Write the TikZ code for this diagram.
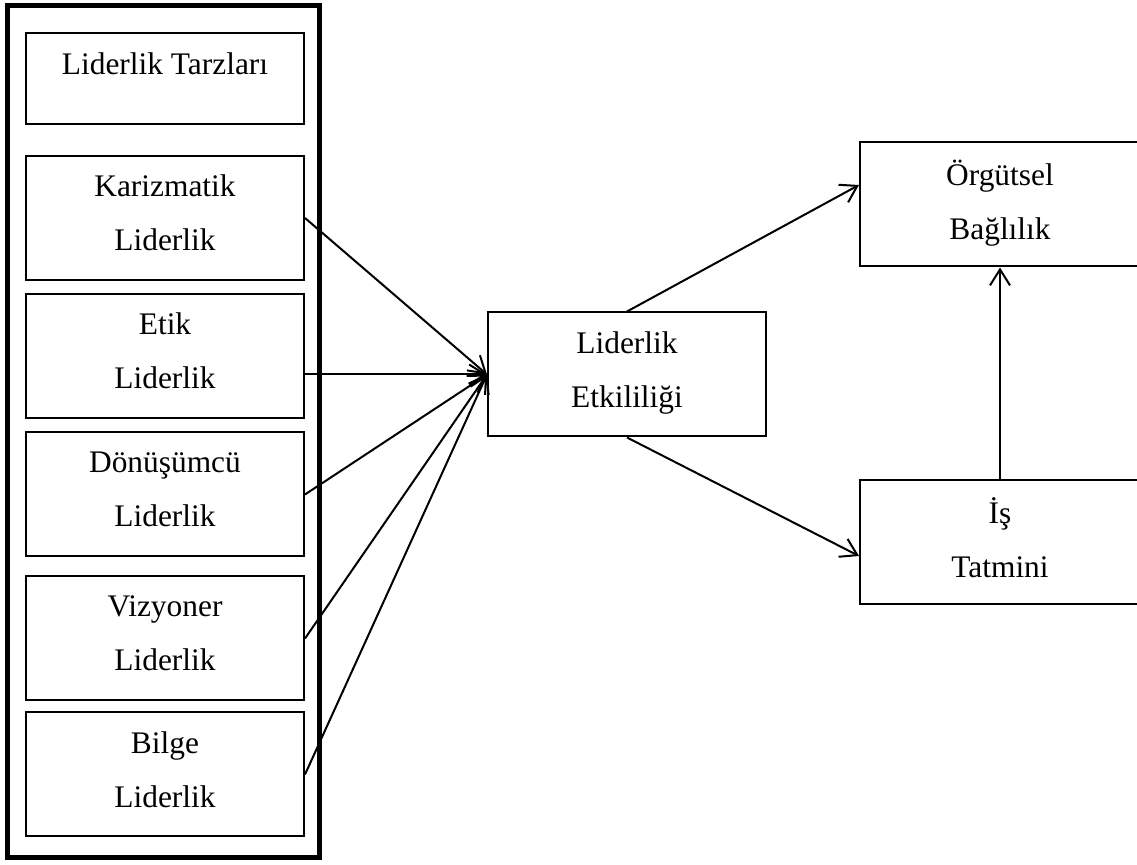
\documentclass[tikz,border=0pt]{standalone}
\usepackage{fontspec}
\setmainfont{Liberation Serif}
\usetikzlibrary{arrows.meta}
\newcommand\ustpay{\rule{0pt}{14pt}}
\newcommand\altpay[1]{\rule[-#1]{0pt}{#1}}

\begin{document}
\begin{tikzpicture}[x=0.5pt, y=-0.5pt,
    kutu/.style={draw, line width=1pt, inner sep=0pt, align=center,
        minimum width=139pt, minimum height=62pt,
        font=\fontsize{15.7}{27}\selectfont,
        execute at begin node=\ustpay,
        execute at end node={\altpay{5pt}}},
    ok/.style={-{Straight Barb[length=8pt,width=10pt]}, line width=1pt}]
    \useasboundingbox (0,0) rectangle (1137,865);
    \clip (0,0) rectangle (1137,865);
    \draw[line width=2.6pt] (7.5,5.5) rectangle (319.5,857.5);
    \node[kutu, minimum height=45.5pt, execute at end node={\altpay{17.5pt}}] (l0) at (165,78.5) {Liderlik Tarzları};
    \node[kutu] (l1) at (165,218) {Karizmatik\\Liderlik};
    \node[kutu] (l2) at (165,356) {Etik\\Liderlik};
    \node[kutu] (l3) at (165,494.5) {Dönüşümcü\\Liderlik};
    \node[kutu] (l4) at (165,638.5) {Vizyoner\\Liderlik};
    \node[kutu] (l5) at (165,774.5) {Bilge\\Liderlik};
    \node[kutu] (m) at (627,374.5) {Liderlik\\Etkililiği};
    \node[kutu, minimum width=140pt] (r1) at (1000,204.5) {Örgütsel\\Bağlılık};
    \node[kutu, minimum width=140pt] (r2) at (1000,542.5) {İş\\Tatmini};
    \draw[ok] (l1.east) -- (m.west);
    \draw[ok] (l2.east |- m.west) -- (m.west);
    \draw[ok] (l3.east) -- (m.west);
    \draw[ok] (l4.east) -- (m.west);
    \draw[ok] (l5.east) -- (m.west);
    \draw[ok] (m.north) -- ([yshift=9.75pt]r1.west);
    \draw[ok] (m.south) -- ([yshift=-6.75pt]r2.west);
    \draw[ok] (r2.north) -- (r1.south);
\end{tikzpicture}
\end{document}
